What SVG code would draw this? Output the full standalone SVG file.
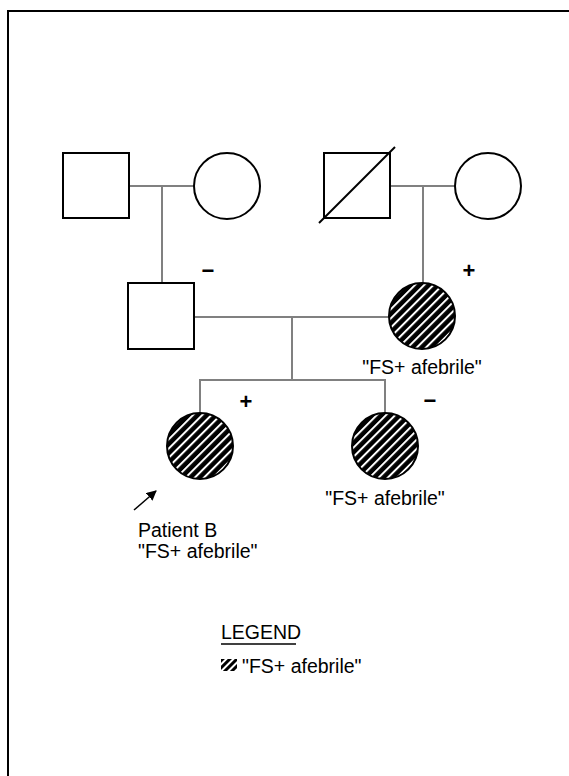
<svg xmlns="http://www.w3.org/2000/svg" width="569" height="776" viewBox="0 0 569 776">
<style>
.sym{fill:#fff;stroke:#000;stroke-width:2}
.aff{fill:url(#hatch);stroke:#000;stroke-width:2}
.ln{stroke:#808080;stroke-width:2;fill:none}
text{font-family:"Liberation Sans",Arial,sans-serif;font-size:19.5px;fill:#000}
.sign{font-size:22px;font-weight:bold;text-anchor:middle}
</style>
<defs>
<pattern id="hatch" patternUnits="userSpaceOnUse" width="6.5" height="6.5" patternTransform="rotate(-45)">
<rect width="6.5" height="6.5" fill="#000"/>
<rect y="0" width="6.5" height="2" fill="#fff"/>
</pattern>
<pattern id="hatch2" patternUnits="userSpaceOnUse" width="5" height="5" patternTransform="rotate(-45)">
<rect width="5" height="5" fill="#000"/>
<rect y="0" width="5" height="2" fill="#fff"/>
</pattern>
<marker id="ah" viewBox="0 0 10 10" refX="9" refY="5" markerWidth="10" markerHeight="10" markerUnits="userSpaceOnUse" orient="auto">
<path d="M0,0 L10,5 L0,10 z" fill="#000"/>
</marker>
</defs>
<rect width="569" height="776" fill="#fff"/>
<path d="M8,776 V11 H569" fill="none" stroke="#000" stroke-width="2"/>
<g id="connectors">
<line class="ln" x1="129" y1="186" x2="194" y2="186"/>
<line class="ln" x1="162" y1="186" x2="162" y2="283"/>
<line class="ln" x1="390" y1="186" x2="455" y2="186"/>
<line class="ln" x1="423" y1="186" x2="423" y2="283"/>
<line class="ln" x1="194" y1="317" x2="389" y2="317"/>
<line class="ln" x1="292" y1="317" x2="292" y2="380"/>
<path class="ln" d="M200,413 V380 H385 V413"/>
<line x1="134" y1="510" x2="156" y2="491" stroke="#000" stroke-width="1.5" marker-end="url(#ah)"/>
</g>
<g id="gf1"><rect class="sym" x="63" y="153" width="66" height="65"/></g>
<g id="gm1"><circle class="sym" cx="227" cy="186" r="33"/></g>
<g id="gf2"><rect class="sym" x="324" y="153" width="66" height="65"/><line x1="319" y1="223" x2="395" y2="147" stroke="#000" stroke-width="2"/></g>
<g id="gm2"><circle class="sym" cx="488" cy="186" r="33"/></g>
<g id="father"><rect class="sym" x="128" y="283" width="66" height="66"/><text class="sign" x="208" y="278">−</text></g>
<g id="mother"><circle class="aff" cx="422" cy="316" r="33"/><text class="sign" x="469" y="278">+</text><text x="422" y="374" text-anchor="middle">"FS+ afebrile"</text></g>
<g id="patientB"><circle class="aff" cx="200" cy="446" r="33"/><text class="sign" x="246" y="409">+</text><text x="138" y="537">Patient B</text><text x="138" y="558">"FS+ afebrile"</text></g>
<g id="sibling"><circle class="aff" cx="385" cy="446" r="33"/><text class="sign" x="430" y="408">−</text><text x="385" y="505" text-anchor="middle">"FS+ afebrile"</text></g>
<g id="legend">
<text x="221" y="639">LEGEND</text>
<line x1="221" y1="644" x2="296" y2="644" stroke="#000" stroke-width="1.5"/>
<rect x="221" y="659" width="16" height="12" fill="url(#hatch2)"/>
<text x="242" y="673">"FS+ afebrile"</text>
</g>
</svg>
